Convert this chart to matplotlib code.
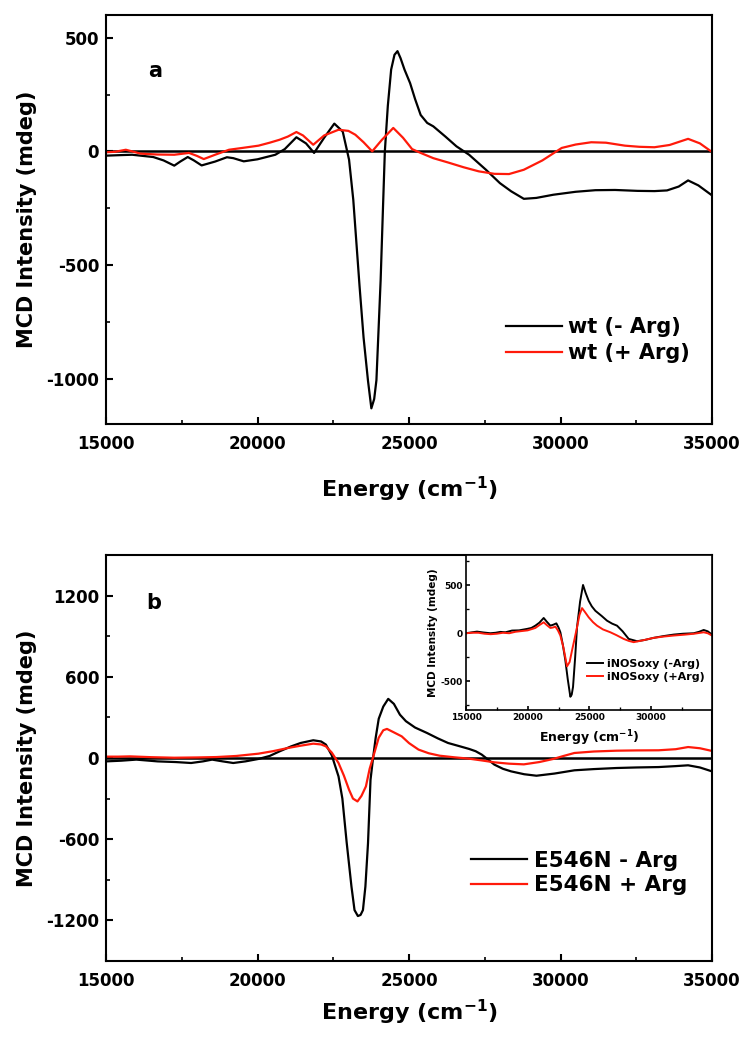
import matplotlib
matplotlib.use('Agg')
import matplotlib.pyplot as plt
from matplotlib.ticker import MultipleLocator

plt.rcParams['font.family'] = ['DejaVu Sans']
plt.rcParams['font.weight'] = 'bold'
plt.rcParams['axes.labelweight'] = 'bold'
plt.rcParams['mathtext.fontset'] = 'dejavusans'
plt.rcParams['mathtext.default'] = 'bf'
plt.rcParams['axes.unicode_minus'] = False

# ---------------- data (panel a) ----------------
wt_minus_E = [15000, 15400, 15862, 16557, 16900, 17252, 17450, 17697, 17900, 18155, 18600, 18990, 19200,
              19545, 20000, 20588, 20900, 21283, 21600, 21867, 22200, 22534, 22812, 23021, 23160, 23368,
              23500, 23646, 23757, 23850, 23924, 24063, 24140, 24202, 24300, 24410, 24520, 24619, 24720,
              24850, 25036, 25200, 25384, 25600, 25801, 26200, 26565, 26982, 27538, 28000, 28372, 28789,
              29200, 29762, 30500, 31152, 31800, 32542, 33100, 33515, 33900, 34210, 34550, 35000]
wt_minus_V = [-19, -17, -15, -25, -40, -63, -45, -25, -40, -62, -45, -26, -30,
              -44, -35, -15, 10, 62, 35, -7, 60, 122, 87, -37, -213, -595,
              -820, -1010, -1131, -1090, -1007, -567, -250, 0, 200, 360, 425, 441, 410,
              360, 300, 230, 160, 125, 110, 65, 22, -15, -81, -140, -176, -209,
              -205, -191, -178, -171, -170, -174, -175, -172, -155, -128, -150, -194]

wt_plus_E = [15000, 15300, 15653, 16140, 16700, 17252, 17739, 18000, 18225, 18600, 19059, 19500, 20032,
             20400, 20727, 21000, 21283, 21500, 21839, 22200, 22673, 23000, 23229, 23500, 23785, 24100,
             24480, 24800, 25100, 25384, 25800, 26287, 26800, 27300, 27816, 28300, 28789, 29400, 30040,
             30500, 31013, 31500, 32125, 32600, 33098, 33600, 34210, 34600, 35000]
wt_plus_V = [-4, -2, 7, -10, -14, -15, -7, -20, -34, -15, 7, 15, 25,
             38, 51, 65, 85, 70, 29, 70, 95, 90, 73, 40, 0, 50,
             103, 60, 10, -7, -30, -49, -70, -88, -99, -100, -81, -40, 15,
             30, 40, 38, 25, 20, 18, 28, 55, 35, -3]

# ---------------- data (panel b) ----------------
mut_minus_E = [15000, 15500, 16000, 16700, 17300, 17808, 18200, 18503, 18850, 19198, 19600, 20032, 20400,
               20727, 21100, 21422, 21839, 22100, 22256, 22450, 22673, 22800, 22940, 23100, 23201, 23312,
               23400, 23479, 23560, 23646, 23729, 23813, 23900, 24000, 24150, 24313, 24500, 24700, 24897,
               25200, 25592, 25950, 26287, 26700, 26982, 27200, 27399, 27600, 27816, 28100, 28372, 28800,
               29206, 29800, 30457, 31100, 31847, 32500, 33237, 33800, 34210, 34600, 35000]
mut_minus_V = [-25, -20, -12, -25, -30, -37, -25, -12, -25, -37, -25, -7, 15,
               49, 85, 111, 131, 122, 99, 20, -136, -300, -620, -950, -1124, -1168,
               -1160, -1124, -950, -630, -161, 0, 150, 290, 380, 437, 400, 320, 272,
               225, 185, 145, 111, 85, 67, 50, 25, -10, -49, -80, -99, -120,
               -131, -115, -91, -82, -74, -70, -67, -60, -54, -70, -99]

mut_plus_E = [15000, 15400, 15793, 16500, 17252, 18000, 18642, 19300, 20032, 20500, 21005, 21400, 21839,
              22100, 22256, 22450, 22673, 22850, 23021, 23150, 23299, 23430, 23577, 23700, 23855, 24000,
              24150, 24272, 24450, 24758, 25000, 25314, 25650, 26009, 26500, 26982, 27400, 27816, 28300,
              28789, 29300, 29762, 30100, 30457, 31100, 31847, 32500, 33237, 33800, 34210, 34600, 35000]
mut_plus_V = [10, 10, 12, 6, 2, 4, 7, 15, 32, 50, 74, 90, 106,
              100, 86, 40, -37, -130, -235, -300, -321, -280, -210, -80, 37, 150,
              205, 215, 195, 160, 110, 62, 35, 17, 5, -5, -18, -32, -42,
              -47, -30, -7, 15, 37, 48, 54, 56, 57, 65, 81, 72, 52]

# ---------------- data (inset) ----------------
inos_minus_E = [15000, 15500, 15892, 16400, 16973, 17400, 17784, 18200, 18730, 19300, 19946, 20300, 20622,
                20950, 21298, 21550, 21839, 22100, 22325, 22500, 22650, 22850, 23055, 23250, 23460, 23570,
                23677, 23850, 24001, 24250, 24488, 24700, 24947, 25200, 25487, 26000, 26433, 26850, 27244,
                27700, 28190, 28866, 29500, 30218, 31000, 31840, 32600, 33462, 33900, 34273, 34600, 34950]
inos_minus_V = [0, 10, 17, 8, 0, 5, 14, 10, 28, 30, 45, 55, 79,
                110, 159, 120, 79, 90, 103, 60, 10, -120, -283, -480, -662, -640,
                -559, -250, 62, 330, 503, 420, 338, 280, 234, 180, 131, 100, 79,
                20, -59, -83, -70, -48, -30, -14, -5, 0, 15, 34, 20, -14]

inos_plus_E = [15000, 15500, 16000, 16500, 17000, 17500, 18000, 18500, 19000, 20000, 20622, 20950, 21298,
               21550, 21839, 22050, 22244, 22450, 22650, 22900, 23190, 23400, 23596, 23800, 24001, 24200,
               24407, 24650, 24947, 25300, 25623, 26100, 26704, 27200, 27785, 28200, 28596, 29300, 30218,
               31000, 31840, 32700, 33500, 34273, 34600, 34950]
inos_plus_V = [0, 5, 5, -5, -10, -5, 5, 0, 15, 30, 55, 85, 114,
               85, 55, 60, 69, 30, -24, -150, -345, -300, -179, -60, 62, 190,
               262, 220, 166, 115, 79, 40, 10, -20, -59, -80, -93, -75, -48,
               -35, -24, -15, -5, 10, 0, -24]

labels_a = ['wt (- Arg)', 'wt (+ Arg)']
labels_b = ['E546N - Arg', 'E546N + Arg']
labels_inset = ['iNOSoxy (-Arg)', 'iNOSoxy (+Arg)']

RED = '#ff1a0a'
xlabel = r'Energy (cm$^{-1}$)'
ylabel = 'MCD Intensity (mdeg)'


def style(ax, tick_fs, major_len=5, minor_len=3, lw=1.5):
    for s in ax.spines.values():
        s.set_linewidth(lw)
    ax.tick_params(which='both', direction='in', top=False, right=False)
    ax.tick_params(which='major', length=major_len, width=lw, labelsize=tick_fs)
    ax.tick_params(which='minor', length=minor_len, width=lw * 0.8)
    for t in ax.get_xticklabels() + ax.get_yticklabels():
        t.set_fontweight('bold')


fig = plt.figure(figsize=(7.53, 10.5), dpi=100)

# ---------- panel a ----------
axa = fig.add_axes([0.1408, 0.5962, 0.8048, 0.3895])
axa.plot(wt_minus_E, wt_minus_V, color='black', lw=1.6, label=labels_a[0])
axa.plot(wt_plus_E, wt_plus_V, color=RED, lw=1.6, label=labels_a[1])
axa.axhline(0, color='black', lw=1.8, zorder=1)
axa.set_xlim(15000, 35000)
axa.set_ylim(-1200, 600)
axa.xaxis.set_major_locator(MultipleLocator(5000))
axa.xaxis.set_minor_locator(MultipleLocator(2500))
axa.yaxis.set_major_locator(MultipleLocator(500))
axa.yaxis.set_minor_locator(MultipleLocator(250))
style(axa, 12)
axa.tick_params(axis='x', pad=8)
axa.tick_params(axis='y', pad=5)
axa.set_xlabel(xlabel, fontsize=16, fontweight='bold')
axa.set_ylabel(ylabel, fontsize=15, fontweight='bold')
axa.xaxis.set_label_coords(0.5, -0.125)
axa.yaxis.set_label_coords(-0.114, 0.5)
axa.text(0.081, 0.862, 'a', transform=axa.transAxes, fontsize=15, fontweight='bold',
         ha='center', va='center')
axa.legend(loc='upper left', bbox_to_anchor=(0.66, 0.262), frameon=False,
           handlelength=2.7, handletextpad=0.3, labelspacing=0.3, borderpad=0, borderaxespad=0,
           prop={'weight': 'bold', 'size': 15})

# ---------- panel b ----------
axb = fig.add_axes([0.1408, 0.0848, 0.8048, 0.3866])
axb.plot(mut_minus_E, mut_minus_V, color='black', lw=1.6, label=labels_b[0])
axb.plot(mut_plus_E, mut_plus_V, color=RED, lw=1.6, label=labels_b[1])
axb.axhline(0, color='black', lw=1.8, zorder=1)
axb.set_xlim(15000, 35000)
axb.set_ylim(-1500, 1500)
axb.xaxis.set_major_locator(MultipleLocator(5000))
axb.xaxis.set_minor_locator(MultipleLocator(2500))
axb.yaxis.set_major_locator(MultipleLocator(600))
axb.yaxis.set_minor_locator(MultipleLocator(300))
style(axb, 12)
axb.tick_params(axis='x', pad=8)
axb.tick_params(axis='y', pad=5)
axb.set_xlabel(xlabel, fontsize=16, fontweight='bold')
axb.set_ylabel(ylabel, fontsize=15, fontweight='bold')
axb.xaxis.set_label_coords(0.5, -0.091)
axb.yaxis.set_label_coords(-0.114, 0.5)
axb.text(0.078, 0.881, 'b', transform=axb.transAxes, fontsize=15, fontweight='bold',
         ha='center', va='center')
axb.legend(loc='upper left', bbox_to_anchor=(0.603, 0.272), frameon=False,
           handlelength=2.6, handletextpad=0.3, labelspacing=0.22, borderpad=0, borderaxespad=0,
           prop={'weight': 'bold', 'size': 15.5})

# ---------- inset ----------
axi = fig.add_axes([0.6189, 0.3238, 0.3267, 0.1476])
axi.plot(inos_minus_E, inos_minus_V, color='black', lw=1.4, label=labels_inset[0])
axi.plot(inos_plus_E, inos_plus_V, color=RED, lw=1.4, label=labels_inset[1])
axi.set_xlim(15000, 34950)
axi.set_ylim(-800, 815)
axi.xaxis.set_major_locator(MultipleLocator(5000))
axi.xaxis.set_minor_locator(MultipleLocator(2500))
axi.yaxis.set_major_locator(MultipleLocator(500))
axi.yaxis.set_minor_locator(MultipleLocator(250))
style(axi, 6.5, major_len=3, minor_len=2, lw=1.2)
axi.tick_params(axis='x', pad=2.5)
axi.tick_params(axis='y', pad=2.5)
axi.set_xlabel(xlabel, fontsize=9, fontweight='bold')
axi.set_ylabel(ylabel, fontsize=7.5, fontweight='bold')
axi.xaxis.set_label_coords(0.5, -0.116)
axi.yaxis.set_label_coords(-0.112, 0.5)
axi.legend(loc='upper left', bbox_to_anchor=(0.49, 0.33), frameon=False,
           handlelength=1.45, handletextpad=0.36, labelspacing=0.25, borderpad=0, borderaxespad=0,
           prop={'weight': 'bold', 'size': 8})

fig.savefig('out.png', dpi=100)
